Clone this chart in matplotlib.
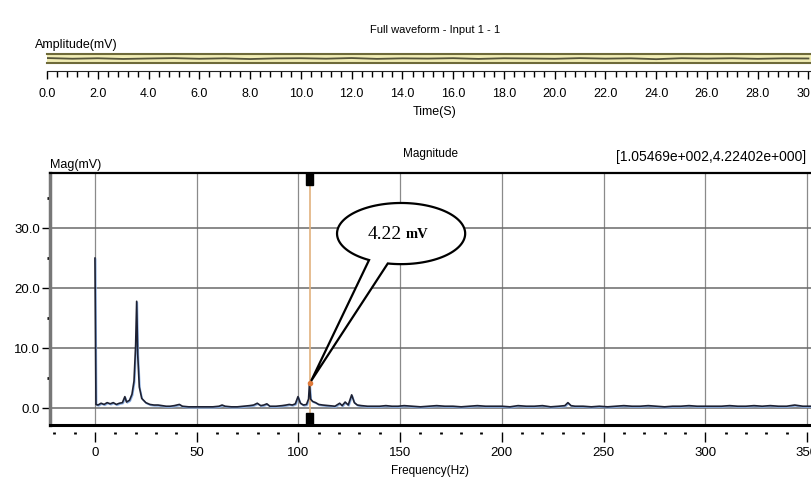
import numpy as np
import matplotlib
matplotlib.use("Agg")
import matplotlib.pyplot as plt
from matplotlib.path import Path
from matplotlib.patches import PathPatch, Rectangle
from matplotlib.transforms import blended_transform_factory, offset_copy

# waveform overview (time in s, amplitude in mV)
wave_t = [0, 1, 2, 3, 4, 5, 6, 7, 8, 9, 10, 11, 12, 13, 14, 15, 16, 17, 18, 19,
          20, 21, 22, 23, 24, 25, 26, 27, 28, 29, 30]
wave_mv = [0.10, -0.05, 0.05, -0.10, 0.00, 0.08, -0.06, 0.04, -0.12, 0.02, 0.06,
           -0.04, 0.10, -0.08, 0.03, -0.02, 0.07, -0.09, 0.05, 0.00, -0.06, 0.08,
           -0.03, 0.04, -0.15, 0.06, -0.02, 0.05, -0.07, 0.03, 0.00]
time_ticks = [0, 2, 4, 6, 8, 10, 12, 14, 16, 18, 20, 22, 24, 26, 28, 30]

# magnitude spectrum (Hz, mV)
freq_hz = [0, 0.5, 1.5, 3, 4.5, 6, 7.5, 9, 10.5, 12, 13.5, 14.7, 15.5, 17, 18.2,
           19.2, 20.0, 20.5, 21.0, 21.8, 23, 25, 27, 29, 31, 33, 35, 37, 39, 41.5,
           43, 46, 49, 52, 55, 58, 61, 62.5, 64, 67, 70, 73, 76, 78, 79.8, 81.5,
           83, 84.5, 86, 89, 92, 94, 95.5, 97, 98.5, 99.8, 101, 102.5, 104, 105,
           105.469, 106, 107, 108.5, 110, 112, 115, 118, 120.3, 121.5, 123, 124.5,
           126.2, 127.5, 129, 131, 134, 137, 140, 143, 146, 149, 152, 156, 160,
           164, 168, 172, 176, 180, 184, 188, 192, 196, 200, 204, 208, 212, 216,
           220, 224, 228, 231, 232.5, 234, 236, 240, 244, 248, 252, 256, 260, 264,
           268, 272, 276, 280, 284, 288, 292, 296, 300, 304, 308, 312, 316, 320,
           324, 328, 332, 336, 340, 344, 348, 352]
mag_mv = [25.0, 0.6, 0.5, 0.8, 0.6, 0.9, 0.7, 0.9, 0.6, 0.8, 0.9, 1.9, 1.0, 1.3, 2.3,
          4.5, 10.5, 17.8, 9.0, 3.5, 1.6, 0.9, 0.6, 0.5, 0.5, 0.4, 0.3, 0.3, 0.4, 0.6,
          0.3, 0.2, 0.2, 0.2, 0.2, 0.2, 0.3, 0.5, 0.3, 0.2, 0.2, 0.3, 0.4, 0.5, 0.8, 0.4,
          0.5, 0.7, 0.3, 0.3, 0.4, 0.5, 0.6, 0.5, 0.7, 1.9, 0.8, 0.5, 0.6, 1.5,
          4.22402, 1.5, 1.1, 0.9, 0.6, 0.5, 0.4, 0.3, 0.8, 0.4, 1.0, 0.5,
          2.2, 0.9, 0.5, 0.4, 0.3, 0.3, 0.3, 0.4, 0.3, 0.3, 0.4, 0.3, 0.2,
          0.3, 0.4, 0.3, 0.3, 0.2, 0.3, 0.4, 0.3, 0.3, 0.3, 0.2, 0.4, 0.3, 0.3,
          0.4, 0.2, 0.3, 0.4, 0.9, 0.4, 0.3, 0.3, 0.2, 0.3, 0.2, 0.3, 0.4, 0.3,
          0.3, 0.4, 0.3, 0.2, 0.3, 0.3, 0.4, 0.3, 0.3, 0.3, 0.3, 0.4, 0.3, 0.3,
          0.4, 0.3, 0.4, 0.3, 0.3, 0.5, 0.3, 0.3]
freq_ticks = [0, 50, 100, 150, 200, 250, 300, 350]
mag_ticks = [0, 10, 20, 30]

cursor_hz = 105.469
cursor_mv = 4.22402


def sci3(v):
    # 1.05469e+002 style, three digit exponent
    m, e = f"{v:.5e}".split("e")
    return f"{m}e{int(e):+04d}"


plt.rcParams['font.family'] = ['Liberation Sans', 'DejaVu Sans']

W, H = 811, 479
fig = plt.figure(figsize=(W / 100, H / 100), dpi=100)
fig.patch.set_facecolor('white')


def box(x0, y0, x1, y1):
    # pixel box -> figure fraction [left, bottom, width, height]
    return [x0 / W, 1 - y1 / H, (x1 - x0) / W, (y1 - y0) / H]


# ---- overview strip ----
ax1 = fig.add_axes(box(47, 54, 811, 63))
ax1.set_facecolor('#f1edb5')
ax1.plot(wave_t, wave_mv, color='#55543a', lw=1.3)
ax1.set_xlim(0, 30.1)
ax1.set_ylim(-1, 1)
ax1.set_yticks([])
for s in ['left', 'right']:
    ax1.spines[s].set_visible(False)
ax1.spines['top'].set_color('#6e6a3a')
ax1.spines['top'].set_linewidth(1.5)
ax1.axhline(-1, color='#6e6a3a', lw=1.5, clip_on=False)
ax1.spines['bottom'].set_position(('outward', 6))
ax1.spines['bottom'].set_color('#222222')
ax1.set_xticks(time_ticks)
ax1.set_xticklabels([f"{t:.1f}" for t in time_ticks])
ax1.set_xticks(np.arange(0, 30.1, 0.4), minor=True)
ax1.tick_params(axis='x', which='major', length=6, width=1, labelsize=9, pad=6)
ax1.tick_params(axis='x', which='minor', length=4, width=1)

fig.text(435 / W, 1 - 30 / H, 'Full waveform - Input 1 - 1', ha='center', va='center', fontsize=8)
fig.text(35 / W, 1 - 45 / H, 'Amplitude(mV)', ha='left', va='center', fontsize=9)
fig.text(435 / W, 1 - 112 / H, 'Time(S)', ha='center', va='center', fontsize=9)

# ---- magnitude spectrum ----
ax = fig.add_axes(box(50, 173, 811, 425))
ax.set_xlim(-22.1, 352.0)
ax.set_ylim(-2.83, 39.2)

ax.set_xticks(freq_ticks)
ax.set_xticks(np.arange(-20, 351, 10), minor=True)
ax.set_yticks(mag_ticks)
ax.set_yticklabels([f"{v:.1f}" for v in mag_ticks])
ax.set_yticks([5, 15, 25, 35], minor=True)
ax.xaxis.grid(True, which='major', color='#8a8a8a', lw=0.9)
ax.yaxis.grid(True, which='major', color='#6a6a6a', lw=1.1)
ax.set_axisbelow(True)

ax.spines['right'].set_visible(False)
ax.spines['top'].set_color('black')
ax.spines['top'].set_linewidth(1.6)
ax.spines['left'].set_color('#777777')
ax.spines['left'].set_linewidth(2.5)
ax.spines['bottom'].set_position(('outward', 5))
ax.spines['bottom'].set_visible(False)
ax.axhline(ax.get_ylim()[0], color='black', lw=2.2, clip_on=False, zorder=3)

ax.tick_params(axis='x', which='major', length=7, width=1, labelsize=9.5, pad=4)
ax.tick_params(axis='x', which='minor', length=1.5, width=2)
ax.tick_params(axis='y', which='major', length=6, width=1, labelsize=9.5, pad=1)
ax.tick_params(axis='y', which='minor', length=2, width=2)

# faint blue shadow under the dark trace
shadow = offset_copy(ax.transData, fig=fig, x=0.8, y=-1.0, units='dots')
ax.plot(freq_hz, mag_mv, color='#8fb2e6', lw=1.0, transform=shadow, zorder=2)
ax.plot(freq_hz, mag_mv, color='#1d2133', lw=1.2, zorder=2.5)

# cursor
ax.axvline(cursor_hz, color='#e2b27e', lw=1.2, zorder=2.2)
bt = blended_transform_factory(ax.transData, ax.transAxes)
ax.add_patch(Rectangle((cursor_hz - 1.7, 1 - 0.048), 3.4, 0.048, transform=bt,
                       color='black', zorder=4, clip_on=False))
ax.add_patch(Rectangle((cursor_hz - 1.7, 0), 3.4, 0.048, transform=bt,
                       color='black', zorder=4, clip_on=False))
ax.plot([cursor_hz], [cursor_mv], 'o', color='#e07a3a', ms=3, zorder=5)

# speech-bubble callout pointing at the cursor peak
cx, cy, a, b = 150.5, 29.1, 31.5, 5.1
t = np.radians(np.linspace(258, 600, 120))
verts = list(zip(cx + a * np.cos(t), cy + b * np.sin(t)))
verts.append((cursor_hz + 0.8, cursor_mv + 0.3))
verts.append(verts[0])
codes = [Path.MOVETO] + [Path.LINETO] * (len(verts) - 2) + [Path.CLOSEPOLY]
ax.add_patch(PathPatch(Path(verts, codes), facecolor='white', edgecolor='black',
                       lw=1.6, zorder=6))
ax.text(151.0, cy - 0.2, f"{cursor_mv:.2f}", ha='right', va='center', fontsize=14,
        family='Liberation Serif', zorder=7)
ax.text(152.6, cy - 0.1, 'mV', ha='left', va='center', fontsize=10.5, fontweight='bold',
        family='Liberation Serif', zorder=7)

fig.text(430 / W, 1 - 154 / H, 'Magnitude', ha='center', va='center', fontsize=8.5)
fig.text(50 / W, 1 - 165 / H, 'Mag(mV)', ha='left', va='center', fontsize=9)
fig.text(806 / W, 1 - 157 / H, f"[{sci3(cursor_hz)},{sci3(cursor_mv)}]",
         ha='right', va='center', fontsize=10)
fig.text(430 / W, 1 - 471 / H, 'Frequency(Hz)', ha='center', va='center', fontsize=8.5)

fig.savefig('out.png', dpi=100)
